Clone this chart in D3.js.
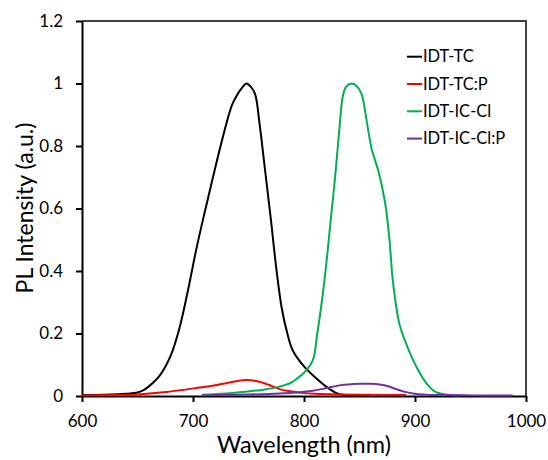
<!DOCTYPE html>
<html>
<head>
<meta charset="utf-8">
<script src="https://cdn.jsdelivr.net/npm/d3@7"></script>
<style>
  html, body { margin: 0; padding: 0; background: #fff; }
  svg { display: block; }
  text { font-family: Lato, "Open Sans", sans-serif; fill: #000; }
</style>
</head>
<body>
<svg id="chart" width="548" height="460"></svg>
<script>
// PL spectra (normalised), wavelength in nm
const tcWl  = [600, 620, 640, 650, 655, 660, 670, 680, 688, 695, 703, 710, 718, 727, 735, 740, 745, 748, 752, 756, 760, 765, 770, 775, 780, 785, 790, 800, 810, 820, 830, 840, 860];
const tcPL  = [0.003, 0.004, 0.007, 0.011, 0.018, 0.03, 0.065, 0.13, 0.22, 0.33, 0.47, 0.58, 0.70, 0.83, 0.93, 0.965, 0.99, 1.0, 0.99, 0.965, 0.87, 0.72, 0.57, 0.41, 0.28, 0.2, 0.145, 0.095, 0.06, 0.03, 0.008, 0.002, 0.0];

const tcpWl = [600, 630, 650, 676, 690, 706, 718, 730, 740, 748, 758, 768, 778, 788, 798, 810, 830, 860, 892];
const tcpPL = [0.002, 0.003, 0.005, 0.013, 0.019, 0.027, 0.033, 0.041, 0.048, 0.051, 0.047, 0.036, 0.022, 0.015, 0.01, 0.007, 0.005, 0.004, 0.003];

const icWl  = [708, 730, 748, 765, 778, 788, 796, 802, 808, 812, 816, 820, 823.4, 828, 832, 835, 838, 843, 848, 852, 856, 861, 867, 873, 877, 880, 886, 894, 901, 910, 918, 928, 940];
const icPL  = [0.004, 0.008, 0.014, 0.021, 0.03, 0.042, 0.062, 0.082, 0.115, 0.2, 0.3, 0.42, 0.54, 0.70, 0.86, 0.96, 0.99, 1.0, 0.99, 0.965, 0.89, 0.79, 0.72, 0.62, 0.5, 0.37, 0.23, 0.15, 0.095, 0.042, 0.014, 0.005, 0.002];

const icpWl = [708, 740, 778, 808, 820, 832, 850, 860, 868, 876, 883, 890, 898, 910, 922, 950, 988];
const icpPL = [0.002, 0.004, 0.008, 0.017, 0.025, 0.034, 0.039, 0.039, 0.037, 0.031, 0.022, 0.014, 0.008, 0.004, 0.003, 0.002, 0.002];

const seriesNames  = ["IDT-TC", "IDT-TC:P", "IDT-IC-Cl", "IDT-IC-Cl:P"];
const seriesColors = ["#000000", "#ff0000", "#00b050", "#7030a0"];

const xTicks = [600, 700, 800, 900, 1000];
const yTicks = [0, 0.2, 0.4, 0.6, 0.8, 1, 1.2];

const series = [
  { name: seriesNames[0], color: seriesColors[0], wl: tcWl,  pl: tcPL },
  { name: seriesNames[1], color: seriesColors[1], wl: tcpWl, pl: tcpPL },
  { name: seriesNames[2], color: seriesColors[2], wl: icWl,  pl: icPL },
  { name: seriesNames[3], color: seriesColors[3], wl: icpWl, pl: icpPL }
];

const svg = d3.select("#chart");
const plotL = 82, plotR = 526, plotT = 21, plotB = 396;

const x = d3.scaleLinear().domain([600, 1000]).range([plotL, plotR]);
const y = d3.scaleLinear().domain([0, 1.2]).range([plotB, plotT]);

// frame (top and right edges)
svg.append("path")
  .attr("d", `M${plotL},${plotT}H${plotR}V${plotB}`)
  .attr("fill", "none").attr("stroke", "#404040").attr("stroke-width", 2);

// axes
const xAxis = svg.append("g").attr("transform", `translate(0,${plotB})`)
  .call(d3.axisBottom(x).tickValues(xTicks).tickSize(6).tickSizeOuter(0).tickPadding(13).tickFormat(d3.format("d")));
const yAxis = svg.append("g").attr("transform", `translate(${plotL},0)`)
  .call(d3.axisLeft(y).tickValues(yTicks).tickSize(6).tickSizeOuter(0).tickPadding(13).tickFormat(d => d3.format("~g")(d)));

[xAxis, yAxis].forEach(g => {
  g.select(".domain").attr("stroke", "#000").attr("stroke-width", 2);
  g.selectAll(".tick line").attr("stroke", "#000").attr("stroke-width", 2);
  g.selectAll(".tick text").attr("font-size", 17).attr("font-family", "Lato, sans-serif").attr("fill", "#000");
});

// spectra
const line = d3.line().curve(d3.curveCatmullRom.alpha(0.5));
series.forEach(s => {
  const pts = s.wl.map((w, i) => [x(w), y(s.pl[i])]);
  svg.append("path")
    .attr("d", line(pts))
    .attr("fill", "none")
    .attr("stroke", s.color)
    .attr("stroke-width", 2)
    .attr("stroke-linejoin", "round");
});

// axis titles
svg.append("text")
  .attr("x", 304).attr("y", 453)
  .attr("text-anchor", "middle").attr("font-size", 23.5)
  .text("Wavelength (nm)");

svg.append("text")
  .attr("transform", `translate(33,208) rotate(-90)`)
  .attr("text-anchor", "middle").attr("font-size", 23)
  .text("PL Intensity (a.u.)");

// legend
const legend = svg.append("g");
series.forEach((s, i) => {
  const ly = 56.7 + i * 27.3;
  legend.append("line")
    .attr("x1", 407).attr("x2", 422).attr("y1", ly).attr("y2", ly)
    .attr("stroke", s.color).attr("stroke-width", 2);
  legend.append("text")
    .attr("x", 423).attr("y", ly).attr("dy", "0.35em")
    .attr("font-size", 16.5)
    .text(s.name);
});
</script>
</body>
</html>
